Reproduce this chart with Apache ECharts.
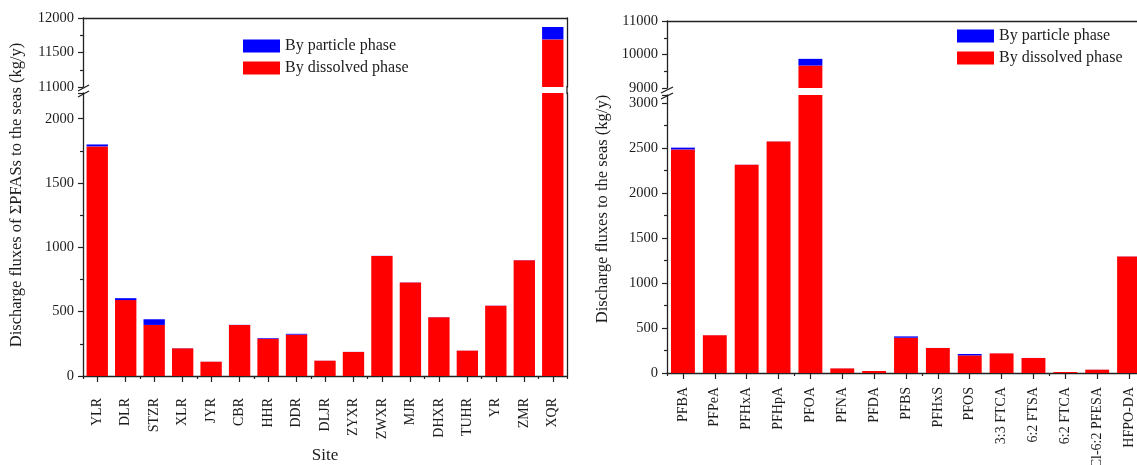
<!DOCTYPE html>
<html><head><meta charset="utf-8">
<script src="https://cdn.jsdelivr.net/npm/echarts@6/dist/echarts.min.js"></script>
<style>html,body{margin:0;padding:0;background:#fff}#c{width:1137px;height:465px}</style>
</head><body><div id="c"></div>
<script>
// ---- data ----
const sites = ['YLR','DLR','STZR','XLR','JYR','CBR','HHR','DDR','DLJR','ZYXR','ZWXR','MJR','DHXR','TUHR','YR','ZMR','XQR'];
const siteDissolved = [1785,590,397,215,111,397,290,322,119,187,933,726,456,197,547,900,11690];
const siteParticle  = [15,15,44,1,0.5,1,5,6,0.5,0.5,1,1,1,0.5,1,1,180];
const compounds = ['PFBA','PFPeA','PFHxA','PFHpA','PFOA','PFNA','PFDA','PFBS','PFHxS','PFOS','3:3 FTCA','6:2 FTSA','6:2 FTCA','Cl-6:2 PFESA','HFPO-DA'];
const compDissolved = [2485,420,2314,2573,9670,51,22,392,278,196,218,167,11,37,1296];
const compParticle  = [20,0.5,1,1,200,0.5,0.5,15,0.5,15,0.5,0.5,0,0.5,1];
// axis segments [min, max, interval]
const siteUpperAxis = [11000, 12000, 500];
const siteLowerAxis = [0, 2200, 500];
const compUpperAxis = [9000, 11000, 1000];
const compLowerAxis = [0, 3090, 500];
const legendNames = ['By particle phase', 'By dissolved phase'];
const siteAxisName = 'Site';
const compAxisName = 'Compound';
const siteYName = 'Discharge fluxes of \u03A3PFASs to the seas (kg/y)';
const compYName = 'Discharge fluxes to the seas (kg/y)';

const FONT = '"Liberation Serif", "Times New Roman", serif';
const INK = '#1c1c1c';
const LINE = {show: true, lineStyle: {color: '#222', width: 1.3}};
const RED = '#ff0000', BLUE = '#0000ff';

function catAxis(grid, data, opts) {
  return Object.assign({
    type: 'category', gridIndex: grid, data: data, boundaryGap: true,
    axisLine: LINE, axisTick: {show: false}, axisLabel: {show: false},
    splitLine: {show: false}
  }, opts);
}
function valAxis(grid, seg, labelled, position) {
  return {
    type: 'value', gridIndex: grid, min: seg[0], max: seg[1], interval: seg[2],
    position: position,
    axisLine: LINE,
    axisTick: {show: labelled, inside: false, length: 5, lineStyle: {color: '#222', width: 1.2}},
    minorTick: {show: labelled, splitNumber: 2, length: 3, lineStyle: {color: '#222', width: 1.2}},
    axisLabel: {show: labelled, showMaxLabel: true, showMinLabel: true, margin: 9, color: INK, fontFamily: FONT, fontSize: 14.5,
      formatter: v => (v % seg[2] === 0 ? String(v) : '')},
    splitLine: {show: false}, minorSplitLine: {show: false}
  };
}
function bottomAxis(grid, data, name, margin, gap) {
  return catAxis(grid, data, {
    position: 'bottom',
    axisTick: {show: true, alignWithLabel: true, length: 6, lineStyle: {color: '#222', width: 1.2}},
    axisLabel: {show: true, rotate: 90, interval: 0, margin: margin, color: INK, fontFamily: FONT, fontSize: 14},
    name: name, nameLocation: 'middle', nameGap: gap,
    nameTextStyle: {color: INK, fontFamily: FONT, fontSize: 17}
  });
}
function boundaryTicks(grid, data) {
  return catAxis(grid, data, {
    position: 'bottom', axisLine: {show: false},
    axisTick: {show: true, length: 3, lineStyle: {color: '#222', width: 1.2}}
  });
}
function bars(xi, yi, stack, dis, par) {
  return [
    {name: legendNames[1], type: 'bar', xAxisIndex: xi, yAxisIndex: yi, stack: stack, data: dis,
     barWidth: '75%', itemStyle: {color: RED}, clip: true},
    {name: legendNames[0], type: 'bar', xAxisIndex: xi, yAxisIndex: yi, stack: stack, data: par,
     barWidth: '75%', itemStyle: {color: BLUE}, clip: true}
  ];
}
function legend(left, top) {
  return {
    data: legendNames, orient: 'vertical', left: left, top: top, padding: 0,
    itemWidth: 37, itemHeight: 13, itemGap: 6, icon: 'rect',
    textStyle: {color: INK, fontFamily: FONT, fontSize: 16, lineHeight: 16}
  };
}
function grid(left, width, top, height) {
  return {left, width, top, height, containLabel: false, outerBoundsMode: 'none'};
}
const brk = (x1, y1, x2, y2) => ({type: 'line', z: 100, shape: {x1, y1, x2, y2}, style: {stroke: '#222', lineWidth: 1.3}});

const chart = echarts.init(document.getElementById('c'), null, {renderer: 'canvas'});
chart.setOption({
  animation: false,
  backgroundColor: '#fff',
  grid: [
    grid(83, 484, 18, 69),
    grid(83, 484, 93, 283),
    grid(667, 478, 21, 67),
    grid(667, 478, 95, 278)
  ],
  xAxis: [
    catAxis(0, sites, {position: 'top'}),
    bottomAxis(1, sites, siteAxisName, 22, 62),
    boundaryTicks(1, sites),
    catAxis(2, compounds, {position: 'top'}),
    bottomAxis(3, compounds, compAxisName, 14, 77),
    boundaryTicks(3, compounds)
  ],
  yAxis: [
    valAxis(0, siteUpperAxis, true, 'left'),
    valAxis(0, siteUpperAxis, false, 'right'),
    valAxis(1, siteLowerAxis, true, 'left'),
    valAxis(1, siteLowerAxis, false, 'right'),
    valAxis(2, compUpperAxis, true, 'left'),
    valAxis(2, compUpperAxis, false, 'right'),
    valAxis(3, compLowerAxis, true, 'left'),
    valAxis(3, compLowerAxis, false, 'right')
  ],
  legend: [legend(243, 38), legend(957, 28)],
  series: [].concat(
    bars(0, 0, 'su', siteDissolved, siteParticle),
    bars(1, 2, 'sl', siteDissolved, siteParticle),
    bars(3, 4, 'cu', compDissolved, compParticle),
    bars(4, 6, 'cl', compDissolved, compParticle)
  ),
  graphic: [
    {type: 'text', x: 17, y: 195, rotation: Math.PI / 2, z: 100,
     style: {text: siteYName, font: '16.5px ' + FONT, fill: INK, align: 'center', verticalAlign: 'middle', textAlign: 'center', textVerticalAlign: 'middle'}},
    {type: 'text', x: 603, y: 209, rotation: Math.PI / 2, z: 100,
     style: {text: compYName, font: '16.5px ' + FONT, fill: INK, align: 'center', verticalAlign: 'middle', textAlign: 'center', textVerticalAlign: 'middle'}},
    brk(78, 91, 89, 85), brk(78, 97, 89, 91),
    brk(661, 93, 673, 87), brk(661, 99, 673, 93),
    {type: 'line', z: 100, shape: {x1: 567, y1: 86, x2: 567, y2: 94}, style: {stroke: '#222', lineWidth: 1.3}}
  ]
});
</script>
</body></html>
